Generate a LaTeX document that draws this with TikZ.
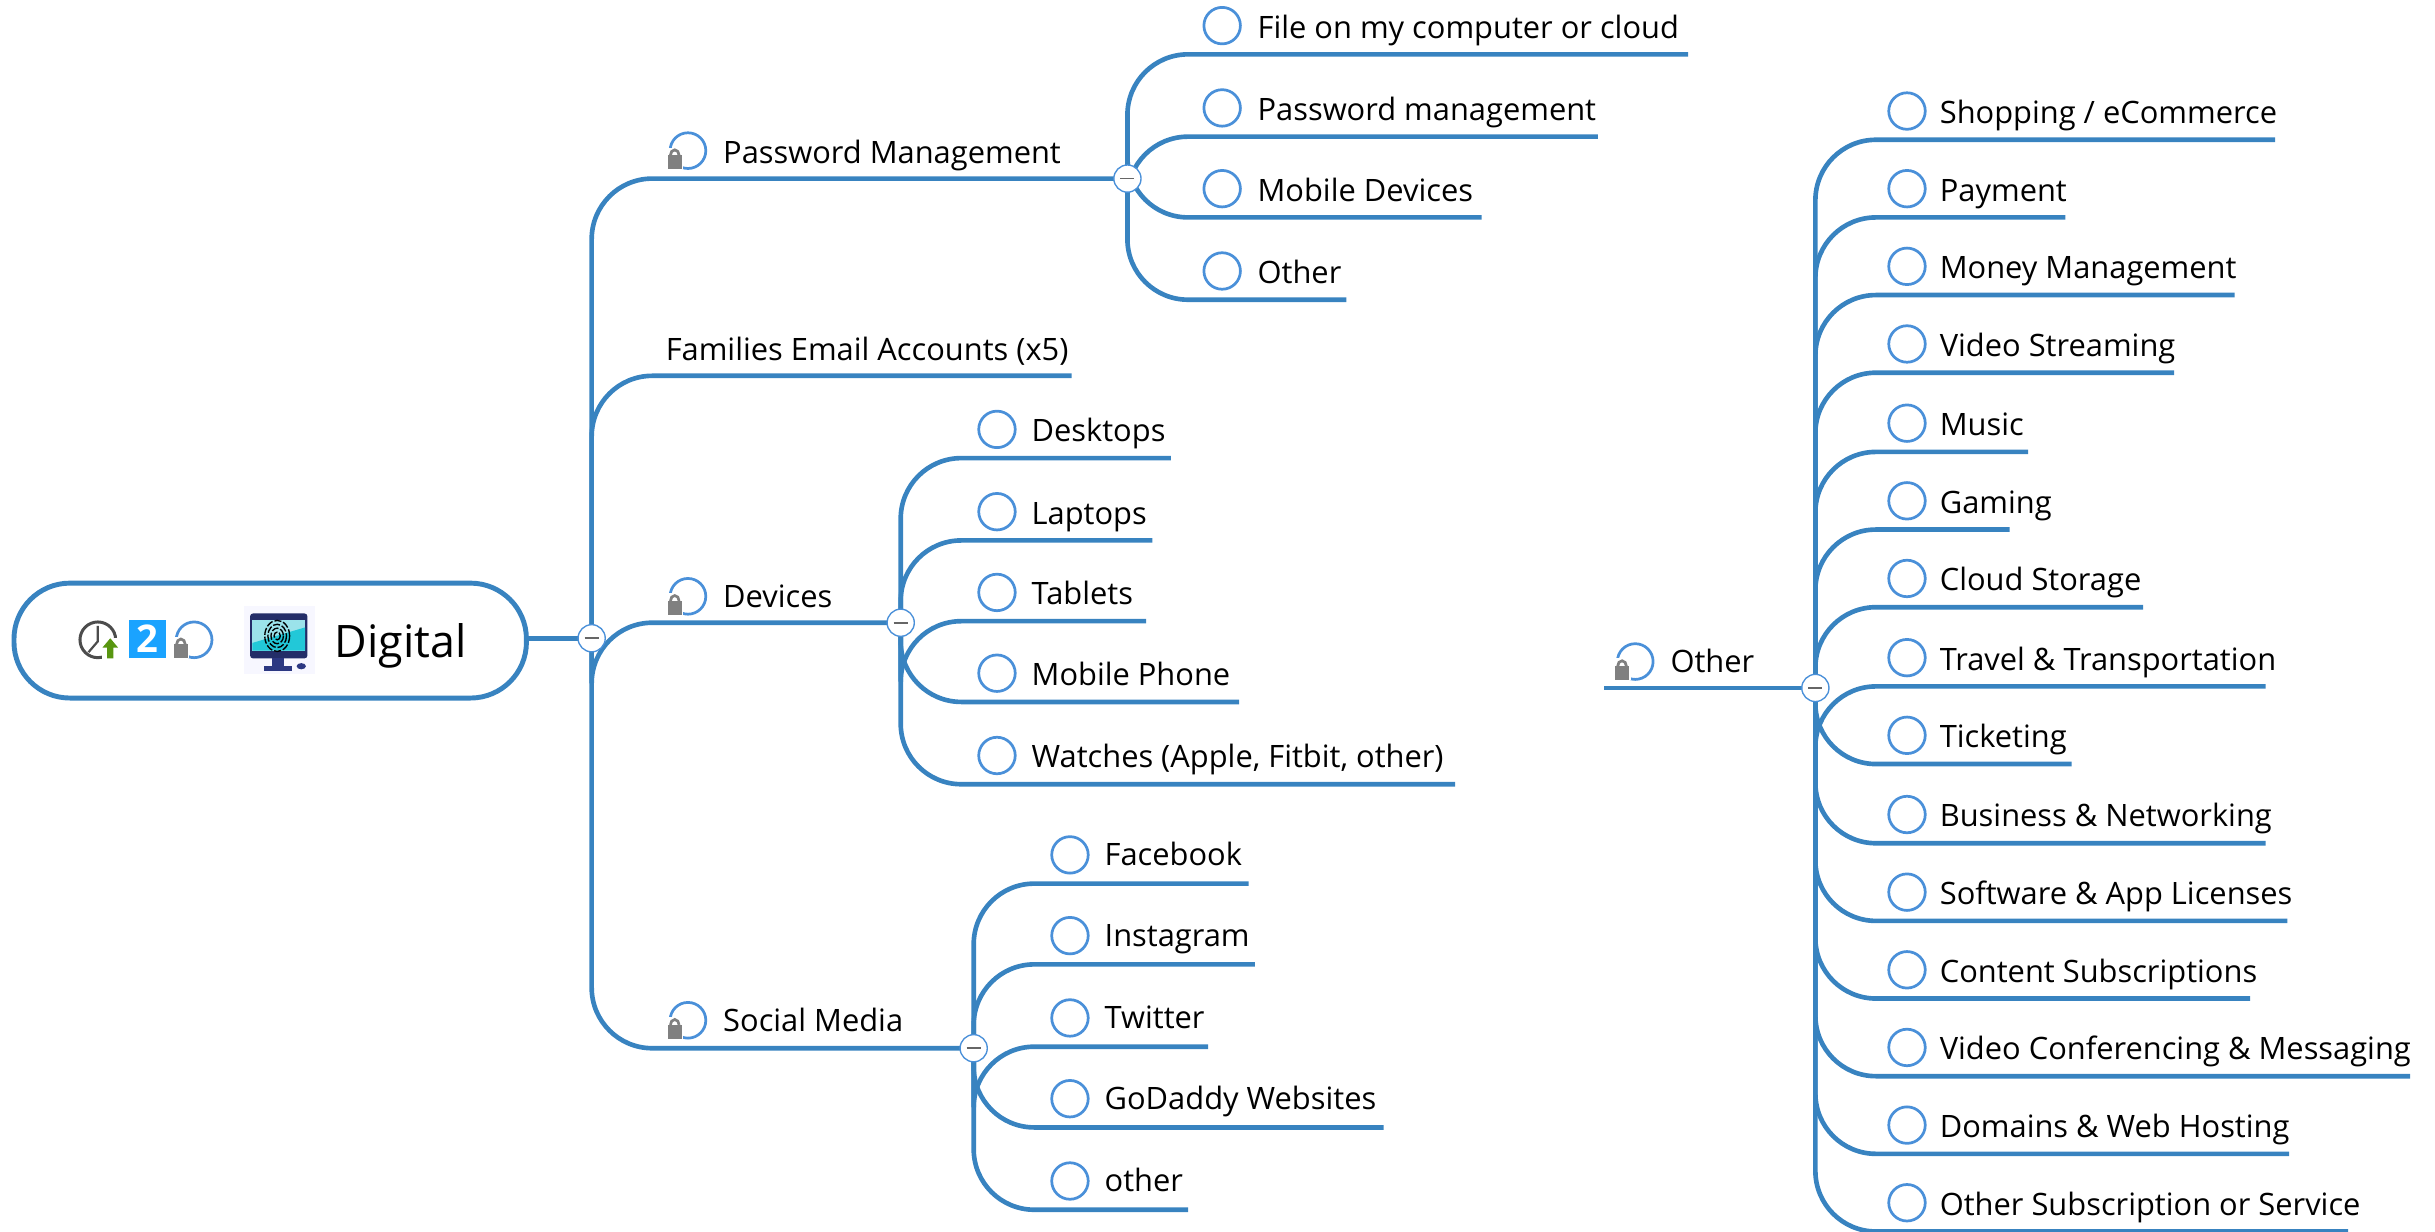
\documentclass[tikz,border=0pt]{standalone}
\usepackage{fontspec}
\setmainfont{Open Sans}
\usetikzlibrary{positioning,backgrounds}
\definecolor{mapblue}{RGB}{56,131,192}
\definecolor{ringblue}{RGB}{74,144,217}
\definecolor{navy}{RGB}{44,56,130}
\definecolor{boxblue}{RGB}{26,163,255}
\definecolor{screenlight}{RGB}{155,227,234}
\definecolor{screendark}{RGB}{34,200,216}
\definecolor{arrowgreen}{RGB}{88,150,16}
\begin{document}
\begin{tikzpicture}[x=.1mm,y=-.1mm,
        branch/.style={line width=.85pt,color=mapblue,rounded corners=3.9mm},
        hub/.style={circle,draw=ringblue,line width=.25pt,fill=white,minimum size=1.75mm,inner sep=0pt},
        ring/.style={circle,draw=ringblue,line width=.5pt,minimum size=2.35mm,inner sep=0pt},
        leaflabel/.style={inner sep=0pt,text height=1.6mm,text depth=.5mm,font=\fontsize{5.65}{7}\selectfont},
        lockring/.pic={
            \draw[ringblue,line width=.5pt] (0,0) circle (11.5);
            \fill[white] (-13,-2) rectangle (-3,12);
            \draw[gray,line width=.5pt] (-5.7,3) arc (0:-180:2.8 and 3.5);
            \fill[gray] (-13,3) rectangle (-4,12);
        }]
    \useasboundingbox (0,0) rectangle (1568,793);

    \node[draw=mapblue,line width=.9pt,fill=white,rounded corners=3.6mm,minimum width=33mm,minimum height=7.4mm] (root) at (174,412.5) {};
    \node[anchor=west,inner sep=0pt,font=\fontsize{8.2}{10}\selectfont] (rootLabel) at (215,416) {Digital};

    \node[hub] (hubRoot) at (381,411) {};
    \node[hub] (hubPw) at (726,115) {};
    \node[hub] (hubDev) at (580,401) {};
    \node[hub] (hubSoc) at (627,675) {};
    \node[hub] (hubOther) at (1169,443) {};
    \foreach \h in {hubRoot,hubPw,hubDev,hubSoc,hubOther}
        \draw[gray!80!black,line width=.3pt] ([xshift=-.45mm]\h.center) -- ([xshift=.45mm]\h.center);

    \coordinate (famEnd) at (690,242);
    \coordinate (otherStart) at (1033,443);
    \node[leaflabel,anchor=west] (pwLabel) at (465,100) {Password Management};
    \node[leaflabel,anchor=west] (famLabel) at (428,226.5) {Families Email Accounts (x5)};
    \node[leaflabel,anchor=west] (devLabel) at (465,386) {Devices};
    \node[leaflabel,anchor=west] (socLabel) at (465,659) {Social Media};
    \node[leaflabel,anchor=west] (otherLabel) at (1075,427.5) {Other};

    \pic at (443,97) {lockring};
    \pic at (443,384) {lockring};
    \pic at (443,657) {lockring};
    \pic at (1053,426) {lockring};
    \pic at (125,412) {lockring};

    \begin{scope}[on background layer]
        \draw[branch] (root.east |- hubRoot.center) -- (hubRoot.center);
        \draw[branch] (hubRoot.center) |- (hubPw.center);
        \draw[branch] (hubRoot.center) |- (famEnd);
        \draw[branch] (hubRoot.center) |- (hubDev.center);
        \draw[branch] (hubRoot.center) |- (hubSoc.center);
        \draw[branch] (otherStart) -- (hubOther.center);
    \end{scope}

    \foreach \n/\y/\e/\t in {pwFile/35/1087/File on my computer or cloud,pwMgmt/88/1029/Password management,pwMobile/140/954/Mobile Devices,pwOther/193/867/Other}{
        \node[ring] (r\n) at (787,\y-18.5) {};
        \node[leaflabel,right=.95mm of r\n,yshift=-.25mm] (l\n) {\t};
        \coordinate (e\n) at (\e,\y);
        \begin{scope}[on background layer]
            \draw[branch] (hubPw.center) |- (e\n);
        \end{scope}
    }
    \foreach \n/\y/\e/\t in {devDesk/295/754/Desktops,devLap/348/742/Laptops,devTab/400/738/Tablets,devPhone/452/798/Mobile Phone,devWatch/505/937/{Watches (Apple, Fitbit, other)}}{
        \node[ring] (r\n) at (642,\y-18.5) {};
        \node[leaflabel,right=.9mm of r\n,yshift=-.25mm] (l\n) {\t};
        \coordinate (e\n) at (\e,\y);
        \begin{scope}[on background layer]
            \draw[branch] (hubDev.center) |- (e\n);
        \end{scope}
    }
    \foreach \n/\y/\e/\t in {socFb/569/804/Facebook,socInsta/621/808/Instagram,socTw/674/778/Twitter,socGo/726/891/GoDaddy Websites,socOther/779/765/other}{
        \node[ring] (r\n) at (689,\y-18.5) {};
        \node[leaflabel,right=.9mm of r\n,yshift=-.15mm] (l\n) {\t};
        \coordinate (e\n) at (\e,\y);
        \begin{scope}[on background layer]
            \draw[branch] (hubSoc.center) |- (e\n);
        \end{scope}
    }
    \foreach \n/\y/\e/\t in {oShop/90/1465/{Shopping / eCommerce},oPay/140/1330/Payment,oMoney/190/1439/Money Management,oVideo/240/1400/Video Streaming,oMusic/291/1306/Music,oGame/341/1294/Gaming,oCloud/391/1380/Cloud Storage,oTravel/442/1459/Travel \& Transportation,oTick/492/1334/Ticketing,oBiz/543/1459/Business \& Networking,oSoft/593/1473/Software \& App Licenses,oCont/643/1449/Content Subscriptions,oConf/693/1552/Video Conferencing \& Messaging,oDom/743/1474/Domains \& Web Hosting,oSub/793/1512/Other Subscription or Service}{
        \node[ring] (r\n) at (1228,\y-18.5) {};
        \node[leaflabel,right=.78mm of r\n,yshift=-.25mm] (l\n) {\t};
        \coordinate (e\n) at (\e,\y);
        \begin{scope}[on background layer]
            \draw[branch] (hubOther.center) |- (e\n);
        \end{scope}
    }

    % clock
    \draw[black!70,line width=.55pt] (63,412) circle (11.5);
    \draw[black!70,line width=.4pt] (63,403) -- (63,413) -- (57,420);
    \fill[white] (66,411) rectangle (78,426);
    \fill[arrowgreen] (71,411) -- (76,417) -- (73,417) -- (73,424) -- (69,424) -- (69,417) -- (66,417) -- cycle;
    % number box
    \node[fill=boxblue,text=white,minimum width=2.4mm,minimum height=2.4mm,inner sep=0pt,font=\fontsize{7}{8}\selectfont\bfseries] (numBox) at (95,411.5) {2};
    % monitor
    \fill[blue!3] (157,390) rectangle (203,434);
    \fill[navy!80!black,rounded corners=.2mm] (161,395) rectangle (198,424);
    \fill[screenlight] (162.5,399) rectangle (196.5,419);
    \fill[screendark] (162.5,419) -- (162.5,414) -- (196.5,404) -- (196.5,419) -- cycle;
    \fill[navy] (175,424) rectangle (183,429);
    \fill[navy] (170,429) rectangle (188,432);
    \fill[navy] (194,429) ellipse (3 and 2);
    \foreach \r in {2,4,6,8}
        \draw[black,line width=.25pt,dash pattern=on 1.3pt off .35pt] (178.5,409.5) ellipse ({\r} and {\r*1.25});
\end{tikzpicture}
\end{document}
